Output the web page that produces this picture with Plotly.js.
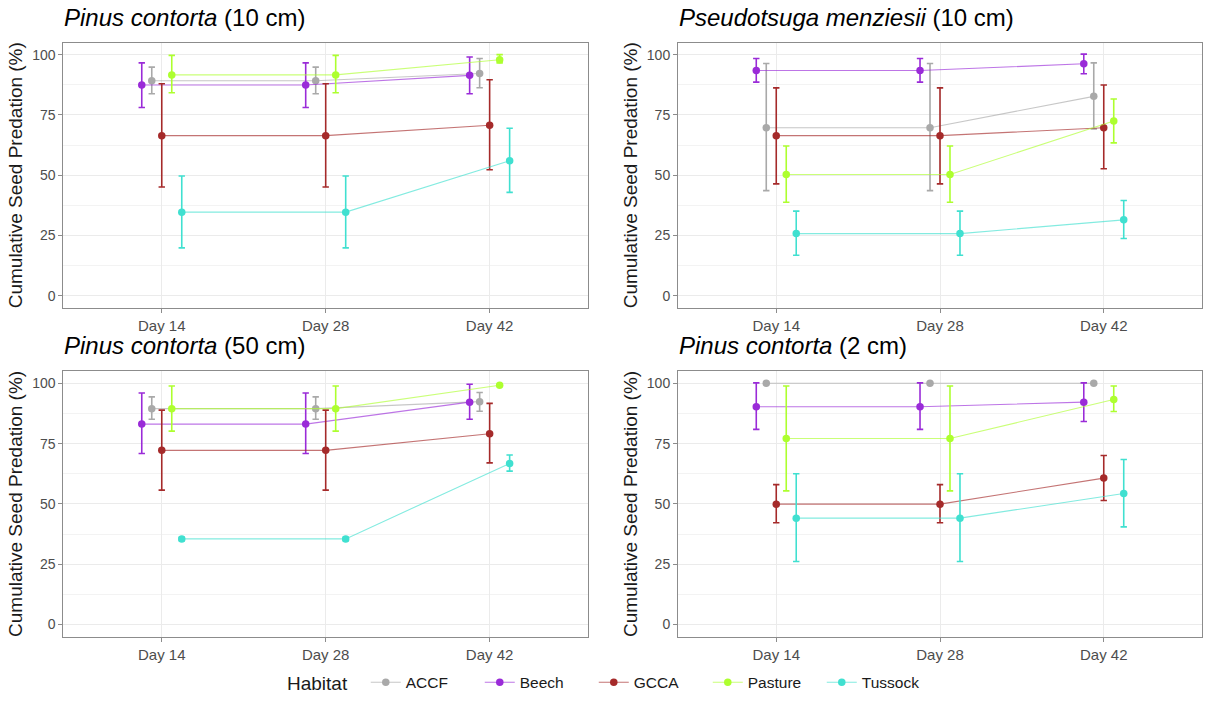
<!DOCTYPE html>
<html>
<head>
<meta charset="utf-8">
<script src="https://cdn.plot.ly/plotly-3.0.1.min.js"></script>
<style>html,body{margin:0;padding:0;background:#fff}#chart{width:1206px;height:701px}</style>
</head>
<body>
<div id="chart"></div>
<script>
const days = ['Day 14', 'Day 28', 'Day 42'];
const habitats = ['ACCF', 'Beech', 'GCCA', 'Pasture', 'Tussock'];
const colors = ['#A9A9A9', '#9A2BD8', '#A52A2A', '#ADFF2F', '#40E0D0'];
const panelSpecies = ['Pinus contorta', 'Pseudotsuga menziesii', 'Pinus contorta', 'Pinus contorta'];
const panelDepth = ['(10 cm)', '(10 cm)', '(50 cm)', '(2 cm)'];

// rows: ACCF, Beech, GCCA, Pasture, Tussock ; columns: Day 14, Day 28, Day 42
const pc10Mean = [[89.2, 89.2, 92.2], [87.4, 87.4, 91.4], [66.4, 66.4, 70.7], [91.6, 91.6, 97.9], [34.7, 34.7, 56.0]];
const pc10Hi   = [[94.8, 94.8, 98.4], [96.6, 96.6, 99.0], [87.9, 87.9, 89.6], [99.7, 99.7, 100.0], [49.7, 49.7, 69.5]];
const pc10Lo   = [[83.8, 83.8, 86.3], [78.1, 78.1, 83.8], [45.1, 45.1, 52.3], [84.2, 84.2, 96.6], [19.9, 19.9, 42.9]];

const pmMean = [[69.7, 69.7, 82.7], [93.4, 93.4, 96.2], [66.4, 66.4, 69.7], [50.3, 50.3, 72.5], [25.8, 25.8, 31.5]];
const pmHi   = [[96.3, 96.3, 96.6], [98.4, 98.4, 100.2], [86.2, 86.2, 87.4], [62.1, 62.1, 81.6], [35.1, 35.1, 39.5]];
const pmLo   = [[43.6, 43.6, 69.2], [88.6, 88.6, 92.1], [46.4, 46.4, 52.7], [38.8, 38.8, 63.4], [16.8, 16.8, 23.8]];

const pc50Mean = [[89.5, 89.5, 92.4], [83.1, 83.1, 92.2], [72.2, 72.2, 79.1], [89.5, 89.5, 99.2], [35.5, 35.5, 66.8]];
const pc50Hi   = [[94.4, 94.4, 96.2], [96.0, 96.0, 99.6], [88.9, 88.9, 91.7], [98.9, 98.9, 99.4], [36.2, 36.2, 70.3]];
const pc50Lo   = [[85.1, 85.1, 88.4], [70.9, 70.9, 85.1], [55.7, 55.7, 67.0], [80.2, 80.2, 99.0], [34.8, 34.8, 63.6]];

const pc2Mean = [[100, 100, 100], [90.3, 90.3, 92.2], [49.9, 49.9, 60.7], [77.1, 77.1, 93.3], [44.1, 44.1, 54.3]];
const pc2Hi   = [[100, 100, 100], [100.2, 100.2, 100.2], [58.0, 58.0, 70.1], [98.9, 98.9, 98.9], [62.5, 62.5, 68.4]];
const pc2Lo   = [[100, 100, 100], [80.9, 80.9, 84.2], [42.2, 42.2, 51.4], [55.4, 55.4, 88.3], [26.1, 26.1, 40.5]];

const panels = [
  {mean: pc10Mean, hi: pc10Hi, lo: pc10Lo},
  {mean: pmMean, hi: pmHi, lo: pmLo},
  {mean: pc50Mean, hi: pc50Hi, lo: pc50Lo},
  {mean: pc2Mean, hi: pc2Hi, lo: pc2Lo}
];

// dodge order as in the figure
const dodgeIndex = {Beech: -2, ACCF: -1, GCCA: 0, Pasture: 1, Tussock: 2};
const dodgeStep = 0.061;

function rgba(hex, a) {
  const n = parseInt(hex.slice(1), 16);
  return 'rgba(' + (n >> 16 & 255) + ',' + (n >> 8 & 255) + ',' + (n & 255) + ',' + a + ')';
}

const FONT = 'Liberation Sans, Arial, sans-serif';

const traces = [];
panels.forEach((p, pi) => {
  const ax = pi === 0 ? '' : String(pi + 1);
  habitats.forEach((h, hi) => {
    const off = dodgeIndex[h] * dodgeStep;
    const xs = days.map((d, i) => i + 1 + off);
    const ys = p.mean[hi];
    traces.push({
      type: 'scatter',
      mode: 'lines+markers',
      name: h,
      legendgroup: h,
      showlegend: pi === 0,
      x: xs,
      y: ys,
      xaxis: 'x' + ax,
      yaxis: 'y' + ax,
      line: {color: rgba(colors[hi], 0.65), width: 1.1},
      marker: {color: colors[hi], size: 7.5},
      error_y: {
        type: 'data',
        symmetric: false,
        array: ys.map((v, i) => p.hi[hi][i] - v),
        arrayminus: ys.map((v, i) => v - p.lo[hi][i]),
        color: colors[hi],
        thickness: 1.6,
        width: 3.2
      },
      hovertemplate: h + ': %{y:.1f}<extra></extra>'
    });
  });
});

const W = 1206, H = 701;
const xDomL = [63.4 / W, 588 / W], xDomR = [678 / W, 1202 / W];
const yDomT = [1 - 311 / H, 1 - 43 / H], yDomB = [1 - 643 / H, 1 - 375 / H];

function xaxis(dom, anchor) {
  return {
    domain: dom, anchor: anchor, range: [0.4, 3.6],
    tickvals: [1, 2, 3], ticktext: days,
    showline: true, mirror: true, linecolor: '#8c8c8c', linewidth: 1,
    showgrid: true, gridcolor: '#ebebeb', gridwidth: 1,
    zeroline: false, ticks: 'outside', ticklen: 4, tickcolor: '#8c8c8c',
    tickfont: {family: FONT, size: 15, color: '#4d4d4d'},
    fixedrange: true
  };
}
function yaxis(dom, anchor) {
  return {
    domain: dom, anchor: anchor, range: [-5, 105],
    tickvals: [0, 25, 50, 75, 100],
    showline: true, mirror: true, linecolor: '#8c8c8c', linewidth: 1,
    showgrid: true, gridcolor: '#ebebeb', gridwidth: 1,
    minor: {tickvals: [12.5, 37.5, 62.5, 87.5], showgrid: true, gridcolor: '#f3f3f3', gridwidth: 1, ticks: ''},
    zeroline: false, ticks: 'outside', ticklen: 4, tickcolor: '#8c8c8c',
    tickfont: {family: FONT, size: 14, color: '#4d4d4d'},
    title: {text: 'Cumulative Seed Predation (%)', font: {family: FONT, size: 19, color: '#1a1a1a'}, standoff: 4},
    automargin: false,
    fixedrange: true
  };
}

const titlePos = [
  {x: xDomL[0], y: yDomT[1]},
  {x: xDomR[0], y: yDomT[1]},
  {x: xDomL[0], y: yDomB[1]},
  {x: xDomR[0], y: yDomB[1]}
];

const annotations = titlePos.map((t, i) => ({
  xref: 'paper', yref: 'paper', x: t.x, y: t.y, xanchor: 'left', yanchor: 'bottom',
  xshift: -1, yshift: 10, showarrow: false,
  text: '<i>' + panelSpecies[i] + '</i> ' + panelDepth[i],
  font: {family: FONT, size: 24, color: '#000'}
}));

const layout = {
  width: W, height: H,
  margin: {l: 0, r: 0, t: 0, b: 0},
  paper_bgcolor: '#fff', plot_bgcolor: '#fff',
  showlegend: true,
  legend: {
    orientation: 'h', x: 285 / W, xanchor: 'left', y: 11 / H, yanchor: 'middle',
    title: {text: 'Habitat  ', side: 'left', font: {family: FONT, size: 19, color: '#1a1a1a'}},
    font: {family: FONT, size: 15.5, color: '#1a1a1a'},
    itemwidth: 30, traceorder: 'normal',
    entrywidth: 69, entrywidthmode: 'pixels'
  },
  xaxis: xaxis(xDomL, 'y'), yaxis: yaxis(yDomT, 'x'),
  xaxis2: xaxis(xDomR, 'y2'), yaxis2: yaxis(yDomT, 'x2'),
  xaxis3: xaxis(xDomL, 'y3'), yaxis3: yaxis(yDomB, 'x3'),
  xaxis4: xaxis(xDomR, 'y4'), yaxis4: yaxis(yDomB, 'x4'),
  annotations: annotations
};

Plotly.newPlot('chart', traces, layout, {displayModeBar: false, staticPlot: true});
</script>
</body>
</html>
